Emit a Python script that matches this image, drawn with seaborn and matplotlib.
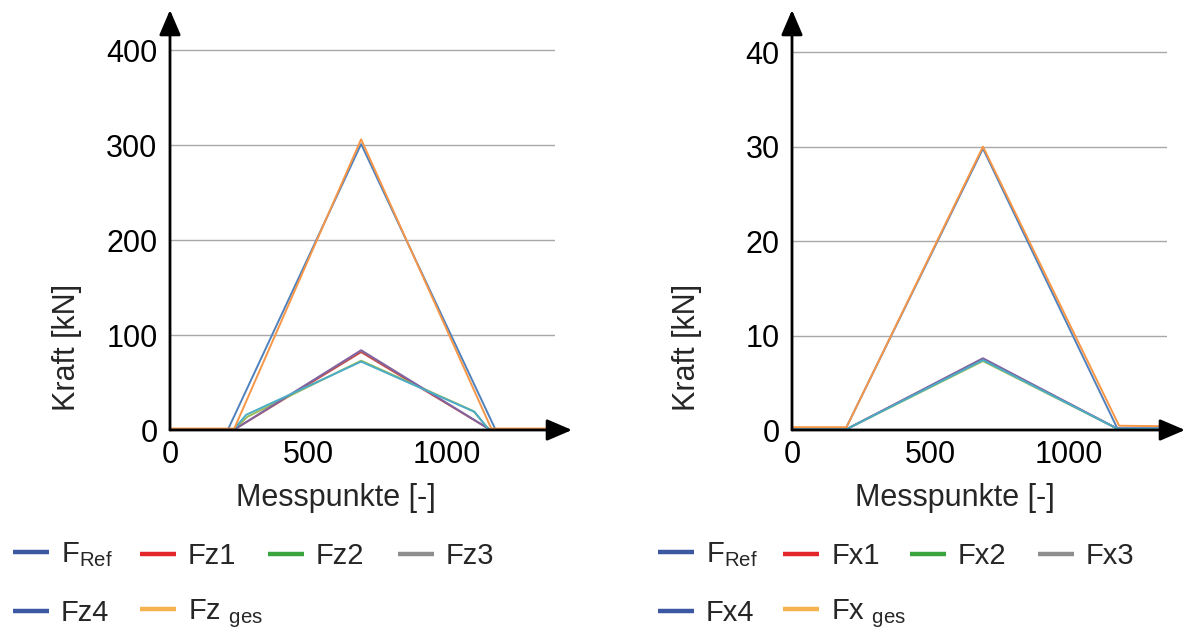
import pandas as pd
import matplotlib.pyplot as plt
import seaborn as sns
from matplotlib.lines import Line2D

# left panel: vertical forces (kN)
z_ref_x = [0, 210, 690, 1175, 1390]
z_ref_y = [1.0, 1.0, 301, 0.5, 0.5]
z1_x = [0, 232, 690, 1155, 1390]
z1_y = [0.5, 0.5, 82, 0.5, 0.5]
z2_x = [0, 232, 280, 690, 1095, 1152, 1390]
z2_y = [0.5, 0.5, 14, 73, 20, 0.5, 0.5]
z3_x = [0, 232, 690, 1155, 1390]
z3_y = [0.5, 0.5, 84, 0.5, 0.5]
z4_x = [0, 230, 275, 690, 1100, 1150, 1390]
z4_y = [0.5, 0.5, 16, 72, 19, 0.5, 0.5]
z_ges_x = [0, 232, 690, 1160, 1390]
z_ges_y = [1.5, 1.5, 306, 1.5, 1.5]

# right panel: horizontal forces (kN)
x_ref_x = [0, 195, 690, 1175, 1355]
x_ref_y = [0.2, 0.2, 29.8, 0.2, 0.2]
x1_x = [0, 198, 690, 1178, 1355]
x1_y = [0.1, 0.1, 7.5, 0.1, 0.1]
x2_x = [0, 198, 690, 1178, 1355]
x2_y = [0.1, 0.1, 7.3, 0.1, 0.1]
x3_x = [0, 198, 690, 1178, 1355]
x3_y = [0.1, 0.1, 7.6, 0.1, 0.1]
x4_x = [0, 198, 690, 1178, 1355]
x4_y = [0.1, 0.1, 7.4, 0.1, 0.1]
x_ges_x = [0, 197, 690, 1182, 1355]
x_ges_y = [0.3, 0.3, 30.0, 0.45, 0.4]

# excel-like colours in the plot, separate legend colours
line_cols = ["#4f81bd", "#c0504d", "#9bbb59", "#8064a2", "#4bacc6", "#f79646"]
leg_cols = ["#3d58a3", "#e2262b", "#3aa43f", "#8e8e8e", "#3d58a3", "#f6b24f"]

sns.set_theme(style="white")
plt.rcParams["font.family"] = ["Liberation Sans", "DejaVu Sans"]
plt.rcParams["mathtext.fontset"] = "custom"
plt.rcParams["mathtext.rm"] = "Liberation Sans"
plt.rcParams["mathtext.it"] = "Liberation Sans"
FS = 22


def long_df(series):
    parts = []
    for name, xs, ys in series:
        parts.append(pd.DataFrame({"x": xs, "y": ys, "series": name}))
    return pd.concat(parts, ignore_index=True)


def draw_panel(ax, df, names, xmax, ymax, yticks, xarrow, yarrow):
    sns.lineplot(data=df, x="x", y="y", hue="series", hue_order=names,
                 palette=line_cols, estimator=None, sort=False, legend=False,
                 linewidth=1.4, ax=ax)
    ax.set_xlim(0, xmax)
    ax.set_ylim(0, ymax)
    ax.set_xticks([0, 500, 1000])
    ax.set_yticks(yticks)
    ax.tick_params(axis="both", length=0, labelsize=FS, colors="black")
    ax.tick_params(axis="y", pad=9)
    ax.tick_params(axis="x", pad=7)
    ax.yaxis.grid(True, color="#a8a8a8", linewidth=1.0)
    ax.xaxis.grid(False)
    for s in ax.spines.values():
        s.set_visible(False)
    ax.set_xlabel("Messpunkte [-]", fontsize=FS, va="center")
    ax.set_ylabel("Kraft [kN]", fontsize=FS, va="center")
    head = dict(arrowstyle="-|>,head_length=0.7,head_width=0.3", color="black",
                lw=2.0, mutation_scale=22, shrinkA=0, shrinkB=0)
    ax.annotate("", xy=(1 + xarrow, 0), xytext=(0, 0), xycoords="axes fraction",
                arrowprops=head, annotation_clip=False)
    ax.annotate("", xy=(0, 1 + yarrow), xytext=(0, 0), xycoords="axes fraction",
                arrowprops=head, annotation_clip=False)


def draw_legend(fig, labels, col_x):
    handles = [Line2D([], [], color=c, lw=3.2, solid_capstyle="butt") for c in leg_cols]
    order = [[0, 4], [1, 5], [2], [3]]
    centers = [583.5, 586, 556, 556]
    spacing = [1.05, 0.9, 1.05, 1.05]
    for cx, yc, sp, idx in zip(col_x, centers, spacing, order):
        fig.legend([handles[i] for i in idx], [labels[i] for i in idx],
                   loc="center left", bbox_to_anchor=(cx / 1186, 1 - yc / 634),
                   frameon=False, fontsize=FS - 1, borderpad=0, borderaxespad=0,
                   handlelength=1.25, handletextpad=0.4, labelspacing=sp)


fig = plt.figure(figsize=(11.86, 6.34), dpi=100)
ax1 = fig.add_axes([170 / 1186, 1 - 430 / 634, 385 / 1186, 408 / 634])
ax2 = fig.add_axes([792 / 1186, 1 - 430 / 634, 375 / 1186, 408 / 634])

z_names = ["FRef", "Fz1", "Fz2", "Fz3", "Fz4", "Fzges"]
df_z = long_df([("FRef", z_ref_x, z_ref_y), ("Fz1", z1_x, z1_y),
                ("Fz2", z2_x, z2_y), ("Fz3", z3_x, z3_y),
                ("Fz4", z4_x, z4_y), ("Fzges", z_ges_x, z_ges_y)])
draw_panel(ax1, df_z, z_names, 1390, 429.5, [0, 100, 200, 300, 400],
           17 / 385, 12 / 408)

x_names = ["FRef", "Fx1", "Fx2", "Fx3", "Fx4", "Fxges"]
df_x = long_df([("FRef", x_ref_x, x_ref_y), ("Fx1", x1_x, x1_y),
                ("Fx2", x2_x, x2_y), ("Fx3", x3_x, x3_y),
                ("Fx4", x4_x, x4_y), ("Fxges", x_ges_x, x_ges_y)])
draw_panel(ax2, df_x, x_names, 1355, 43.2, [0, 10, 20, 30, 40],
           18 / 375, 12 / 408)

ax1.xaxis.set_label_coords(0.43, -0.167)
ax1.yaxis.set_label_coords(-0.267, 0.203)
ax2.xaxis.set_label_coords(0.435, -0.167)
ax2.yaxis.set_label_coords(-0.28, 0.203)

z_labels = [r"F$_{\mathrm{Ref}}$", "Fz1", "Fz2", "Fz3", "Fz4", r"Fz $_{\mathrm{ges}}$"]
x_labels = [r"F$_{\mathrm{Ref}}$", "Fx1", "Fx2", "Fx3", "Fx4", r"Fx $_{\mathrm{ges}}$"]
draw_legend(fig, z_labels, [13, 140, 268, 398])
draw_legend(fig, x_labels, [658, 783, 910, 1038])

fig.savefig("out.png", dpi=100)
plt.close(fig)
